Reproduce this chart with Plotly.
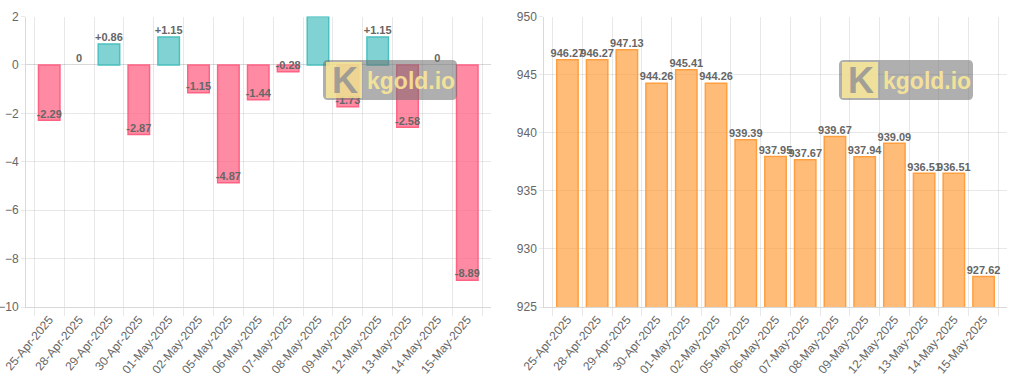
import plotly.graph_objects as go

dates = ["25-Apr-2025", "28-Apr-2025", "29-Apr-2025", "30-Apr-2025", "01-May-2025",
         "02-May-2025", "05-May-2025", "06-May-2025", "07-May-2025", "08-May-2025",
         "09-May-2025", "12-May-2025", "13-May-2025", "14-May-2025", "15-May-2025"]
changes = [-2.29, 0, 0.86, -2.87, 1.15, -1.15, -4.87, -1.44, -0.28, 2.00,
           -1.73, 1.15, -2.58, 0, -8.89]
prices = [946.27, 946.27, 947.13, 944.26, 945.41, 944.26, 939.39, 937.95, 937.67,
          939.67, 937.94, 939.09, 936.51, 936.51, 927.62]

W, H = 1024, 378
POS_FILL, POS_LINE = "rgba(75,192,192,0.7)", "rgb(75,192,192)"
NEG_FILL, NEG_LINE = "rgba(255,99,132,0.75)", "rgb(255,99,132)"
ORG_FILL, ORG_LINE = "rgba(255,159,64,0.7)", "rgb(255,159,64)"
GRID = "rgba(0,0,0,0.09)"
TXT = "#666666"
FONT = "Liberation Sans, Arial, Helvetica, sans-serif"


def px(x):
    return x / W


def py(y):
    return 1 - y / H


def fmt_change(v):
    if v > 0:
        return "+" + ("%.2f" % v).rstrip("0").rstrip(".")
    if v == 0:
        return "0"
    return ("%.2f" % v).rstrip("0").rstrip(".")


fig = go.Figure()

fig.add_trace(go.Bar(
    x=dates, y=changes, xaxis="x", yaxis="y",
    marker=dict(color=[POS_FILL if v >= 0 else NEG_FILL for v in changes],
                line=dict(color=[POS_LINE if v >= 0 else NEG_LINE for v in changes],
                          width=[0 if v == 0 else 1.5 for v in changes])),
    showlegend=False, hoverinfo="x+y",
))
fig.add_trace(go.Scatter(
    x=dates, y=changes, xaxis="x", yaxis="y", mode="text",
    text=[fmt_change(v) for v in changes], textposition="top center",
    textfont=dict(size=11, color=TXT, family=FONT, weight="bold"),
    cliponaxis=True, showlegend=False, hoverinfo="skip",
))

fig.add_trace(go.Bar(
    x=dates, y=prices, xaxis="x2", yaxis="y2",
    marker=dict(color=ORG_FILL, line=dict(color=ORG_LINE, width=1.5)),
    showlegend=False, hoverinfo="x+y",
))
fig.add_trace(go.Scatter(
    x=dates, y=prices, xaxis="x2", yaxis="y2", mode="text",
    text=["%.2f" % v for v in prices], textposition="top center",
    textfont=dict(size=11, color=TXT, family=FONT, weight="bold"),
    cliponaxis=False, showlegend=False, hoverinfo="skip",
))

common_x = dict(type="category", tickson="boundaries", showgrid=True, gridcolor=GRID,
                ticks="outside", ticklen=8, tickcolor=GRID, tickangle=-50,
                tickfont=dict(size=12, color=TXT, family=FONT),
                showline=True, linecolor="rgba(0,0,0,0.15)", automargin=False,
                zeroline=False)
common_y = dict(showgrid=True, gridcolor=GRID, ticks="outside", ticklen=4, tickcolor=GRID,
                tickfont=dict(size=12, color=TXT, family=FONT),
                showline=True, linecolor="rgba(0,0,0,0.15)", automargin=False)

yb, yt = py(307), py(16.5)
fig.update_layout(
    width=W, height=H,
    margin=dict(l=0, r=0, t=0, b=0),
    paper_bgcolor="white", plot_bgcolor="white",
    bargap=0.28,
    font=dict(family=FONT, color=TXT),
    xaxis=dict(domain=[px(26), px(490.5)], anchor="y", **common_x),
    yaxis=dict(domain=[yb, yt], anchor="x", range=[-10, 2], dtick=2,
               zeroline=True, zerolinecolor="rgba(0,0,0,0.15)", zerolinewidth=1, **common_y),
    xaxis2=dict(domain=[px(544.3), px(1006.7)], anchor="y2", **common_x),
    yaxis2=dict(domain=[yb, yt], anchor="x2", range=[925, 950], dtick=5,
                zeroline=False, **common_y),
)

# kgold.io watermarks (paper coordinates)
shapes = []
annotations = []
for bx in (323, 839):
    x0, x1, y0, y1 = bx, bx + 134, 60, 100
    r = 5
    path = (f"M {px(x0 + r)} {py(y0)} L {px(x1 - r)} {py(y0)} "
            f"Q {px(x1)} {py(y0)} {px(x1)} {py(y0 + r)} L {px(x1)} {py(y1 - r)} "
            f"Q {px(x1)} {py(y1)} {px(x1 - r)} {py(y1)} L {px(x0 + r)} {py(y1)} "
            f"Q {px(x0)} {py(y1)} {px(x0)} {py(y1 - r)} L {px(x0)} {py(y0 + r)} "
            f"Q {px(x0)} {py(y0)} {px(x0 + r)} {py(y0)} Z")
    shapes.append(dict(type="path", xref="paper", yref="paper", path=path,
                       fillcolor="rgba(110,110,110,0.55)", line=dict(width=0), layer="above"))
    shapes.append(dict(type="rect", xref="paper", yref="paper",
                       x0=px(x0 + 3), x1=px(x0 + 39), y0=py(98), y1=py(62),
                       fillcolor="rgba(255,236,150,0.8)", line=dict(width=0), layer="above"))
    annotations.append(dict(xref="paper", yref="paper", x=px(x0 + 22), y=py(80),
                            text="<b>K</b>", showarrow=False, xanchor="center", yanchor="middle",
                            font=dict(size=36, color="rgba(150,150,150,0.9)", family=FONT)))
    annotations.append(dict(xref="paper", yref="paper", x=px(x0 + 42), y=py(81),
                            text="<b>kgold.io</b>", showarrow=False, xanchor="left", yanchor="middle",
                            font=dict(size=23, color="rgba(255,236,150,0.85)", family=FONT)))

fig.update_layout(shapes=shapes, annotations=annotations)

fig.write_html("out.html", config={"displayModeBar": False},
               post_script="document.body.style.margin='0';document.body.style.overflow='hidden';")
